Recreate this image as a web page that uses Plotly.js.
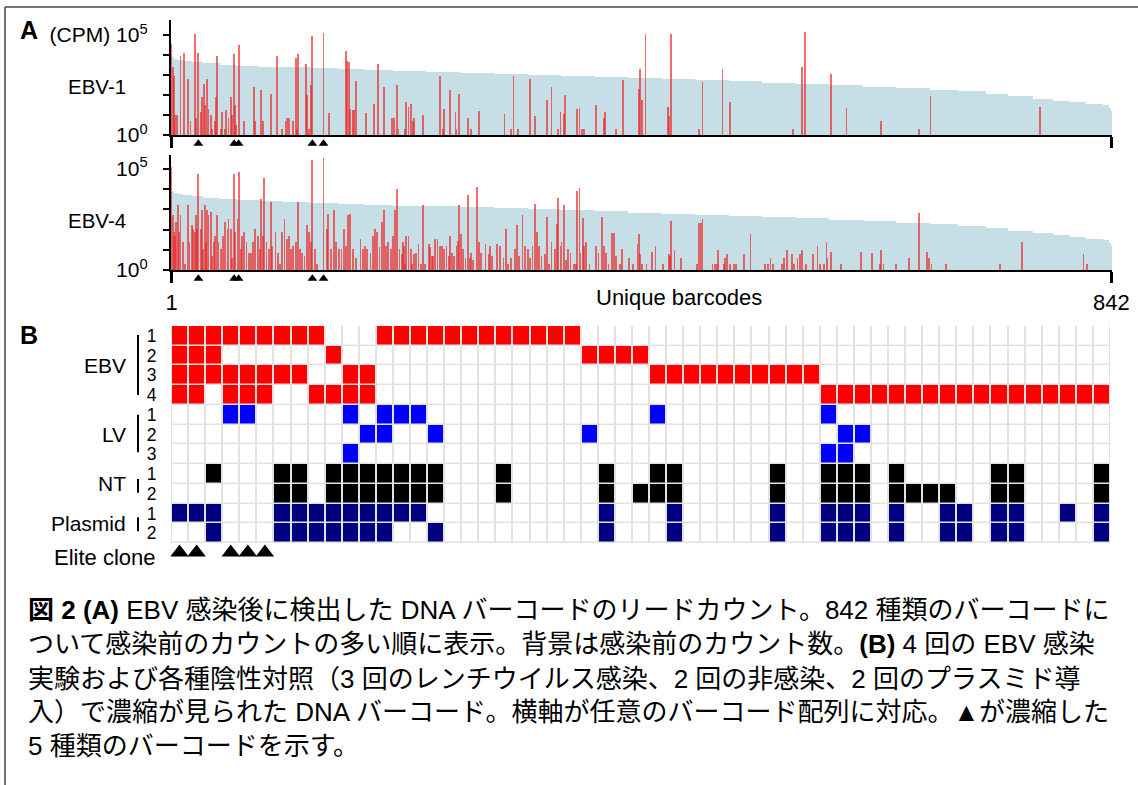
<!DOCTYPE html>
<html><head><meta charset="utf-8">
<script src="https://cdn.plot.ly/plotly-3.0.1.min.js"></script>
<style>html,body{margin:0;padding:0;background:#fff}#chart{width:1138px;height:785px}</style>
</head><body><div id="chart"></div>
<script>
// ---------- Panel A data ----------
const barcodeCount = 842;
const eliteBarcodes = [25, 57, 61, 127, 137];
// pre-infection counts (background), rank ordered; value per barcode range starting at bgStart
const bgStart = [1,2,4,7,12,20,30,45,60,80,100,125,150,175,200,230,260,290,320,350,380,410,440,470,500,530,560,590,620,650,680,705,730,750,772,790,805,820,835,840,842];
const bgCpm   = [8500,7600,6600,5750,5000,4400,3800,3240,2950,2630,2400,2140,1900,1700,1550,1410,1290,1150,1020,910,790,690,620,540,480,420,360,310,260,220,180,150,117,89,66,52,43,36,32,22,16];

// EBV-1 read counts (CPM), non-zero barcodes only
const ebv1Barcode = [1,2,3,4,6,9,12,16,18,22,23,25,27,28,30,31,33,34,36,37,40,41,42,45,46,49,50,52,54,55,57,58,59,61,66,75,76,81,83,90,95,100,103,104,106,110,112,113,114,121,122,124,126,127,137,142,157,158,160,161,163,164,166,175,182,186,191,198,200,203,204,210,211,213,215,217,218,226,241,244,245,250,255,256,258,266,269,276,299,305,307,311,322,326,337,341,347,349,352,353,364,366,368,370,381,388,389,399,405,419,420,422,425,445,446,448,473,476,494,501,557,565,568,591,605,636,670,680,778];
const ebv1Cpm = [35000,2400,930,10,10,9100,13000,650,5,107000,7,13000,14,80,360,31,630,21,10,2,5,80,9100,2,14,2,17,7,80,10,11000,31,3,31000,5,250,5,170,5,115,9100,2,5,7,7,5,7500,2,11000,3500,95,2,300,89000,130000,12,16000,5100,4300,21,17,17,530,12,37,3500,250,7,7,300,2,2,45,25,37,5,7,10,930,2,21,170,14,2,115,7,2,15,11,2,930,2,640,9,54,250,2,14,11,100,19,23,2,2,31,7,14,2,590,200,2000,54,107000,25,9,107000,2,470,2100,45,2,2400,141000,1100,22,5,2,85,25];

// EBV-4 read counts (CPM), non-zero barcodes only
const ebv4Barcode = [1,2,3,4,5,7,8,9,11,13,16,17,19,20,22,23,24,25,27,28,29,31,32,33,34,36,37,39,40,42,43,45,47,49,51,52,54,55,57,58,60,61,63,64,66,68,70,72,74,76,78,80,81,83,84,86,88,90,91,94,96,98,100,102,104,106,108,110,112,114,116,118,120,122,124,126,127,129,131,137,140,141,144,146,148,151,153,155,157,159,161,163,166,170,172,174,176,179,181,183,185,187,189,191,193,195,197,199,201,203,205,207,208,209,210,211,213,215,216,218,220,222,224,226,228,231,232,234,235,237,239,241,243,245,247,249,250,252,254,256,257,258,260,262,264,266,268,269,271,274,276,278,282,285,286,288,292,295,298,300,302,305,308,310,312,315,317,320,322,324,326,328,330,332,335,337,339,341,344,346,347,349,350,352,354,356,358,361,363,364,366,367,369,370,372,375,381,383,386,388,390,392,395,397,399,402,404,410,414,418,419,420,422,426,431,434,441,446,447,448,451,457,471,473,475,476,485,487,489,490,495,496,498,501,504,506,513,519,532,535,537,539,547,549,552,556,558,561,563,565,569,575,579,581,585,587,588,591,600,618,628,635,636,638,649,661,670,677,679,681,694,742,762,817,820];
const ebv4Cpm = [132000,500,74,50,230,1600,74,500,23,2,1700,23,160,107,74,500,107,54000,107,890,11,1600,23,890,500,740,5,23,50,500,23,11,50,230,107,340,107,4,54000,74,340,68000,11,50,74,23,7,7,23,107,50,11,3400,50,34000,23,11,2300,16,74,7,2,74,340,34,50,11,16,23,2300,11,7,5,170,74,23,280000,11,2,340000,107,600,11,890,23,11,11,107,16,500,600,11,4,34,11,16,11,7,50,107,74,13,230,890,16,23,11,50,890,10700,11,6,23,16,2,50,50,11,2,6,7,19,2,1700,2,19,13,5,5,34,34,15,16,11,16,5,50,7,5,16,28,1700,60,11,4,5000,4,7,3,13000,25,7,19,6,16,5,19,16,4,107,2,4,11,160,5,540,16,11,4,16,1900,74,16,5,6,420,2,23,11,190,3700,16,23,1700,3,11,7,2,2,7900,11700,7,370,16,23,2,16,7,420,16,7,2,68,68,5,2,11,4,2,19,60,6,2,2,8,15,2,6,5,270,10,4,2,210,210,320,2,2,2,10,2,4,6,2,2,2,6,60,2,2,4,2,2,4,10,6,2,4,6,10,2,6,16,2,2,25,4,8,2,8,7,2,10,2,2,4,680,8,4,2,2,2,25,6,2];

// ---------- Panel B data ----------
const rowNumbers = ['1','2','3','4','1','2','3','1','2','1','2'];
const rowGroups = ['EBV','EBV','EBV','EBV','LV','LV','LV','NT','NT','Plasmid','Plasmid'];
const columnCount = 55;
const hitColumns = [
  [0,1,2,3,4,5,6,7,8,12,13,14,15,16,17,18,19,20,21,22,23],
  [0,1,2,9,24,25,26,27],
  [0,1,2,3,4,5,6,7,10,11,28,29,30,31,32,33,34,35,36,37],
  [0,1,3,4,5,8,9,10,11,38,39,40,41,42,43,44,45,46,47,48,49,50,51,52,53,54],
  [3,4,10,12,13,14,28,38],
  [11,12,15,24,39,40],
  [10,38,39],
  [2,6,7,9,10,11,12,13,14,15,19,25,28,29,35,38,39,40,42,48,49,54],
  [6,7,9,10,11,12,13,14,15,19,25,27,28,29,35,38,39,40,42,43,44,45,48,49,54],
  [0,1,2,6,7,8,9,10,11,12,13,14,25,29,35,38,39,40,42,45,46,48,49,52,54],
  [2,6,7,8,9,10,11,12,15,25,29,35,38,39,40,42,45,46,48,49,54]
];
const eliteColumns = [0,1,3,4,5];
const groupNames = ['EBV','LV','NT','Plasmid'];
const groupCode = {EBV:1, LV:2, NT:3, Plasmid:4};

// ---------- build ----------
const bgX = [], bgW = [];
for (let i = 0; i < bgStart.length; i++) {
  const s = bgStart[i], e = (i + 1 < bgStart.length ? bgStart[i+1] : barcodeCount + 1);
  bgX.push((s + e - 1) / 2); bgW.push(e - s);
}
const bgColor = '#c6dfe7';
const redColor = 'rgba(234,40,40,0.68)';

const z = hitColumns.map((cols, r) => {
  const row = new Array(columnCount).fill(0);
  cols.forEach(c => row[c] = groupCode[rowGroups[r]]);
  return row;
});

const triA = {symbol:'triangle-up', size:8.5, color:'black', line:{width:0}};
const traces = [
  {type:'bar', x:bgX, y:bgCpm, width:bgW, marker:{color:bgColor, line:{width:0}}, xaxis:'x', yaxis:'y', hoverinfo:'skip'},
  {type:'bar', x:ebv1Barcode, y:ebv1Cpm, width:1.6, marker:{color:redColor, line:{width:0}}, xaxis:'x', yaxis:'y'},
  {type:'scatter', mode:'markers', x:eliteBarcodes, y:eliteBarcodes.map(()=>0), marker:triA, xaxis:'x', yaxis:'y4', cliponaxis:false},
  {type:'bar', x:bgX, y:bgCpm, width:bgW, marker:{color:bgColor, line:{width:0}}, xaxis:'x2', yaxis:'y2', hoverinfo:'skip'},
  {type:'bar', x:ebv4Barcode, y:ebv4Cpm, width:1.6, marker:{color:redColor, line:{width:0}}, xaxis:'x2', yaxis:'y2'},
  {type:'scatter', mode:'markers', x:eliteBarcodes, y:eliteBarcodes.map(()=>0), marker:triA, xaxis:'x2', yaxis:'y5', cliponaxis:false},
  {type:'heatmap', z:z, x:[...Array(columnCount).keys()], y:[...Array(rowNumbers.length).keys()], zmin:0, zmax:4, showscale:false, xgap:2, ygap:1.5, hoverinfo:'skip',
   colorscale:[[0,'#ffffff'],[0.125,'#ffffff'],[0.125,'#ff0000'],[0.375,'#ff0000'],[0.375,'#0000ff'],[0.625,'#0000ff'],[0.625,'#000000'],[0.875,'#000000'],[0.875,'#000080'],[1,'#000080']],
   xaxis:'x3', yaxis:'y3'},
  {type:'scatter', mode:'markers', x:eliteColumns, y:eliteColumns.map(()=>0), marker:{symbol:'triangle-up', size:16, color:'black', line:{width:0}}, xaxis:'x3', yaxis:'y6', cliponaxis:false}
];

const W = 1138, H = 785;
const px = v => v / W, py = v => 1 - v / H;
const font = 'Liberation Sans, Arial, sans-serif';
const sup = n => '10<sup>' + n + '</sup>';

const xBase = {range:[0.5, barcodeCount + 0.5], showline:true, linewidth:2.2, linecolor:'black', ticks:'outside', tickvals:[1, barcodeCount], ticklen:11, tickwidth:2.2, tickcolor:'black', showgrid:false, zeroline:false, fixedrange:true};
const yBase = {type:'log', showline:true, linewidth:2.2, linecolor:'black', ticks:'outside', ticklen:6, tickwidth:2, tickcolor:'black', tickvals:[1,100000], showgrid:false, zeroline:false, tickfont:{family:font, size:21, color:'black'}, ticklabelstandoff:11,
  minor:{tickmode:'array', tickvals:[10,100,1000,10000], ticks:'outside', ticklen:6, tickwidth:2, tickcolor:'black', showgrid:false}};
const hiddenY = {range:[-1, 1], visible:false, showgrid:false, zeroline:false, fixedrange:true};

const layout = {
  width:W, height:H, margin:{l:0,r:0,t:0,b:0}, paper_bgcolor:'white', plot_bgcolor:'rgba(0,0,0,0)',
  showlegend:false, barmode:'overlay', bargap:0,
  font:{family:font, color:'black'},
  xaxis:Object.assign({}, xBase, {domain:[px(171), px(1112)], anchor:'y', showticklabels:false}),
  yaxis:Object.assign({}, yBase, {domain:[py(135), py(20)], anchor:'x', range:[0, 5.75], ticktext:[sup(0),'(CPM) ' + sup(5)]}),
  xaxis2:Object.assign({}, xBase, {domain:[px(171), px(1112)], anchor:'y2', showticklabels:true, ticktext:['1', String(barcodeCount)], tickfont:{family:font, size:22, color:'black'}}),
  yaxis2:Object.assign({}, yBase, {domain:[py(270), py(155)], anchor:'x2', range:[0, 5.69], ticktext:[sup(0),sup(5)]}),
  xaxis3:{domain:[px(171), px(1110)], anchor:'y3', range:[-0.5, columnCount - 0.5], showticklabels:false, showgrid:false, zeroline:false, showline:false, ticks:''},
  yaxis3:{domain:[py(543), py(326)], anchor:'x3', range:[rowNumbers.length - 0.5, -0.5], tickvals:[...Array(rowNumbers.length).keys()], ticktext:rowNumbers,
          tickfont:{family:font, size:17.5, color:'black'}, ticks:'outside', ticklen:10, tickcolor:'rgba(0,0,0,0)', showgrid:false, zeroline:false, showline:false},
  yaxis4:Object.assign({}, hiddenY, {domain:[py(150), py(137)], anchor:'x'}),
  yaxis5:Object.assign({}, hiddenY, {domain:[py(285), py(272)], anchor:'x2'}),
  yaxis6:Object.assign({}, hiddenY, {domain:[py(562), py(543)], anchor:'x3'}),
  shapes:[
    {type:'rect', xref:'x3', yref:'y3', x0:-0.5, x1:columnCount - 0.5, y0:-0.5, y1:rowNumbers.length - 0.5, fillcolor:'#e2e2e2', line:{width:0}, layer:'below'},
    {type:'line', xref:'paper', yref:'paper', x0:px(5), x1:1, y0:py(7), y1:py(7), line:{color:'#444', width:1.5}},
    {type:'line', xref:'paper', yref:'paper', x0:px(5), x1:px(5), y0:py(7), y1:0, line:{color:'#444', width:1.5}},
    {type:'line', xref:'paper', yref:'y3', x0:px(138), x1:px(138), y0:-0.05, y1:3.0, line:{color:'black', width:2}},
    {type:'line', xref:'paper', yref:'y3', x0:px(138), x1:px(138), y0:4.0, y1:5.9, line:{color:'black', width:2}},
    {type:'line', xref:'paper', yref:'y3', x0:px(138), x1:px(138), y0:7.25, y1:7.95, line:{color:'black', width:2}},
    {type:'line', xref:'paper', yref:'y3', x0:px(138), x1:px(138), y0:9.2, y1:9.9, line:{color:'black', width:2}}
  ],
  annotations:[]
};

const A = layout.annotations;
A.push({xref:'paper', yref:'paper', x:px(29), y:py(30), text:'<b>A</b>', showarrow:false, font:{family:font, size:25}, xanchor:'center', yanchor:'middle'});
A.push({xref:'paper', yref:'paper', x:px(29), y:py(335), text:'<b>B</b>', showarrow:false, font:{family:font, size:25}, xanchor:'center', yanchor:'middle'});
A.push({xref:'paper', yref:'paper', x:px(128), y:py(87), text:'EBV-1', showarrow:false, font:{family:font, size:20.5}, xanchor:'right', yanchor:'middle'});
A.push({xref:'paper', yref:'paper', x:px(128), y:py(221), text:'EBV-4', showarrow:false, font:{family:font, size:20.5}, xanchor:'right', yanchor:'middle'});
A.push({xref:'paper', yref:'paper', x:px(679), y:py(297), text:'Unique barcodes', showarrow:false, font:{family:font, size:22}, xanchor:'center', yanchor:'middle'});
// group labels
const groupRows = {};
rowGroups.forEach((g, i) => { (groupRows[g] = groupRows[g] || []).push(i); });
groupNames.forEach(g => {
  const rows = groupRows[g];
  const c = (rows[0] + rows[rows.length-1]) / 2;
  A.push({xref:'paper', yref:'y3', x:px(128), y:c, text:g, showarrow:false, font:{family:font, size:21}, xanchor:'right', yanchor:'middle'});
});
A.push({xref:'paper', yref:'paper', x:px(158), y:py(557), text:'Elite clone', showarrow:false, font:{family:font, size:22}, xanchor:'right', yanchor:'middle'});

// caption
const capFont = 'Liberation Sans, Noto Sans CJK JP, sans-serif';
const captionLines = [
  '<b>図 2 (A)</b> EBV 感染後に検出した DNA バーコードのリードカウント。842 種類のバーコードに',
  'ついて感染前のカウントの多い順に表示。背景は感染前のカウント数。<b>(B)</b> 4 回の EBV 感染',
  '実験および各種陰性対照（3 回のレンチウイルス感染、2 回の非感染、2 回のプラスミド導',
  '入）で濃縮が見られた DNA バーコード。横軸が任意のバーコード配列に対応。▲が濃縮した',
  '5 種類のバーコードを示す。'
];
const capY = [610, 644, 679, 712, 746];
captionLines.forEach((t, i) => A.push({xref:'paper', yref:'paper', x:px(26), y:py(capY[i]), text:t, showarrow:false, font:{family:capFont, size:26, color:'black'}, xanchor:'left', yanchor:'middle'}));

Plotly.newPlot('chart', traces, layout, {staticPlot:true, displayModeBar:false});
</script></body></html>
